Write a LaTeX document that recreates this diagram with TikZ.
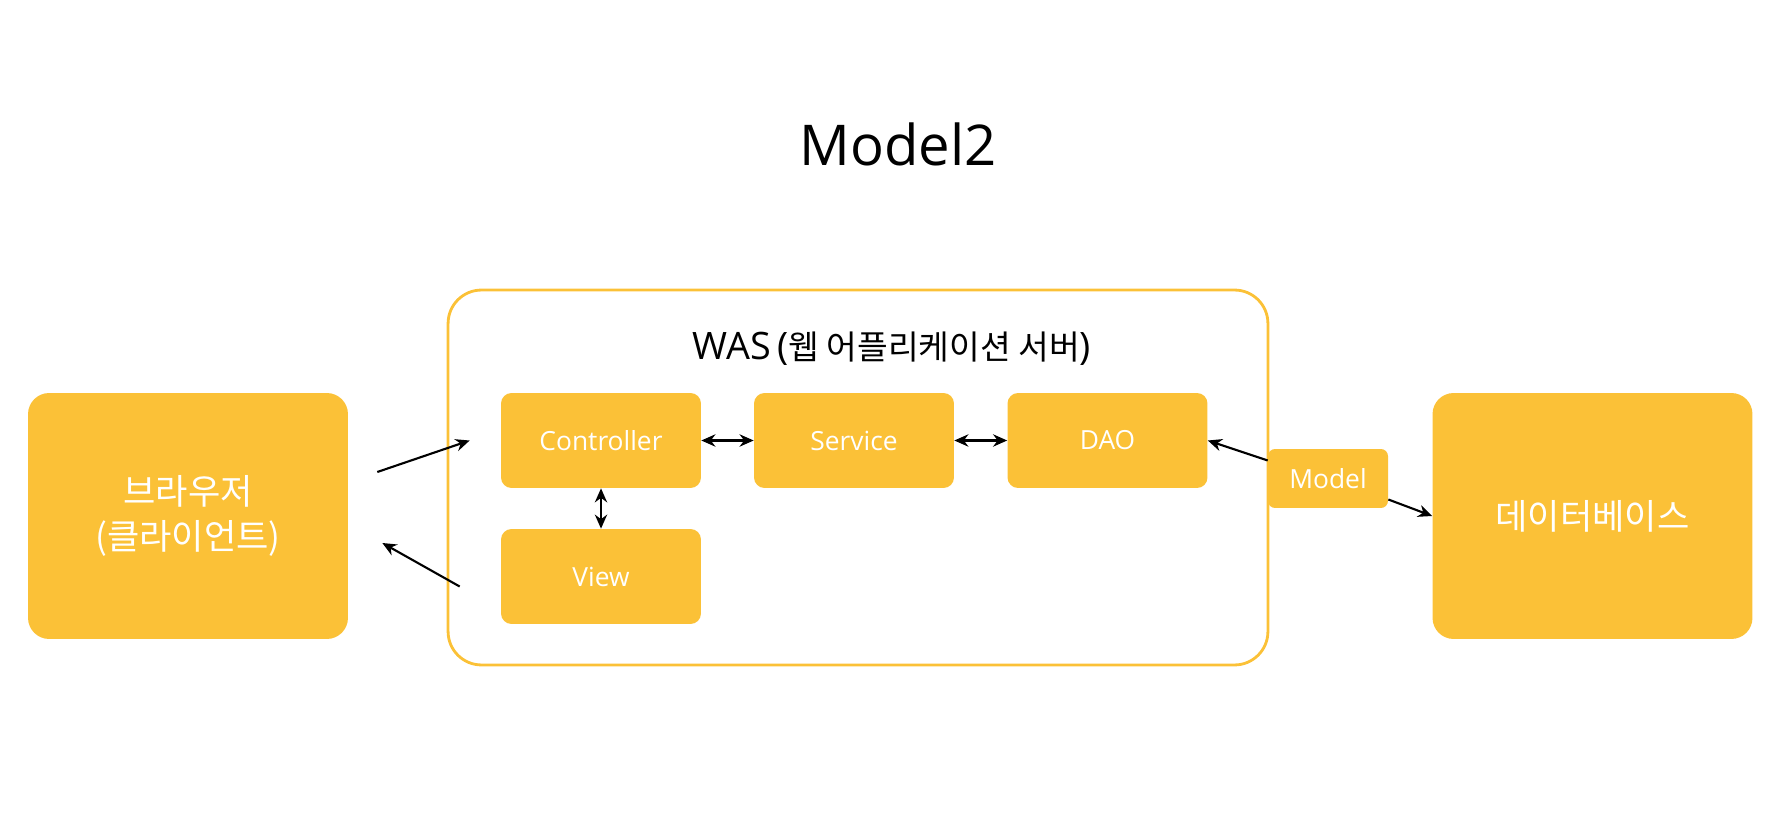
\documentclass[tikz,border=0pt]{standalone}
\usepackage{fontspec}
\setmainfont{Open Sans}
\newfontfamily\cjk{Noto Sans CJK KR}
\usetikzlibrary{arrows.meta}
\definecolor{wasyellow}{RGB}{251,193,55}

\begin{document}
\begin{tikzpicture}[
	x=0.02cm, y=-0.02cm,
	unit/.style={rectangle, rounded corners=6pt, fill=wasyellow, text=white, minimum width=4cm, minimum height=1.9cm, inner sep=0pt, font=\fontsize{15}{18}\selectfont},
	endbox/.style={rectangle, rounded corners=12pt, fill=wasyellow, text=white, minimum width=6.4cm, minimum height=4.92cm, align=center, font=\cjk\fontsize{20}{25.6}\selectfont},
	wasframe/.style={rectangle, rounded corners=19pt, draw=wasyellow, line width=1.6pt, minimum width=16.4cm, minimum height=7.5cm},
	modelbox/.style={rectangle, rounded corners=4pt, fill=wasyellow, text=white, minimum width=2.4cm, minimum height=1.18cm, inner sep=0pt, font=\fontsize{15}{18}\selectfont},
	connection/.style={-{Stealth[length=8pt,width=7pt]}, line width=1.2pt},
	twoway/.style={{Stealth[length=8pt,width=7pt]}-{Stealth[length=8pt,width=7pt]}, line width=1.2pt}
	]
	
	\useasboundingbox (0,0) rectangle (1789,817);
	
	% Title
	\node[anchor=base, font=\fontsize{32}{38}\selectfont] (title) at (898,166) {Model2};
	
	% Browser and database
	\node[endbox] (browser) at (188,516) {브라우저\\(클라이언트)};
	\node[endbox] (db) at (1592.5,516) {데이터베이스};
	
	% WAS frame
	\node[wasframe] (was) at (858,477.5) {};
	\node[anchor=base, font=\fontsize{21.5}{26}\selectfont] (wastitle) at (892,360) {WAS\,({\cjk\fontsize{19}{22}\selectfont 웹 어플리케이션 서버})};
	
	% Parts inside WAS
	\foreach \name/\x/\txt in {ctrl/601/Controller, service/854/Service, dao/1107.5/DAO}
		\node[unit] (\name) at (\x,440.5) {\txt};
	\node[unit] (view) at (601,576.5) {View};
	
	% Model
	\node[modelbox] (model) at (1328,478.5) {Model};
	
	% Connections
	\draw[connection] ([shift={(29,-44)}]browser.east) -- ([shift={(-31,0)}]ctrl.west);
	\draw[connection] ([shift={(-41,10)}]view.west) -- ([shift={(34,27)}]browser.east);
	\foreach \a/\b in {ctrl/service, service/dao, ctrl/view}
		\draw[twoway] (\a) -- (\b);
	\draw[connection] ([shift={(0,-18)}]model.west) -- (dao.east);
	\draw[connection] ([shift={(0,21)}]model.east) -- (db.west);
	
\end{tikzpicture}
\end{document}
